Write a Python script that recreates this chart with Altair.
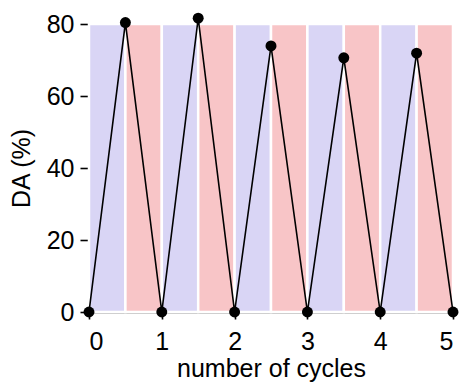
import altair as alt
import pandas as pd

# Measured DA over five switching cycles (half-cycle resolution)
cycle = [0, 0.5, 1, 1.5, 2, 2.5, 3, 3.5, 4, 4.5, 5]
da_pct = [0, 80.4, 0, 81.6, 0, 73.9, 0, 70.6, 0, 71.9, 0]

# Alternating half-cycle phases shaded behind the data
band_start = [0, 0.5, 1, 1.5, 2, 2.5, 3, 3.5, 4, 4.5]
band_end = [0.5, 1, 1.5, 2, 2.5, 3, 3.5, 4, 4.5, 5]
band_phase = ["A", "B", "A", "B", "A", "B", "A", "B", "A", "B"]

df = pd.DataFrame({"cycle": cycle, "da": da_pct})
bands = pd.DataFrame({"x0": band_start, "x1": band_end, "phase": band_phase,
                      "y0": [0] * 10, "y1": [80] * 10})

FONT = "Liberation Sans"
xscale = alt.Scale(domain=[0, 5], nice=False, zero=False)
yscale = alt.Scale(domain=[0, 80], nice=False)

x_axis = alt.Axis(values=[0, 1, 2, 3, 4, 5], format="d", grid=False,
                  title="number of cycles", tickSize=7, labelPadding=10,
                  titlePadding=2)
y_axis = alt.Axis(values=[0, 20, 40, 60, 80], grid=False, title="DA (%)",
                  tickSize=9, labelPadding=6, titlePadding=12)

shade = alt.Chart(bands).mark_rect(stroke="white", strokeWidth=2.5).encode(
    x=alt.X("x0:Q", scale=xscale, axis=x_axis),
    x2="x1:Q",
    y=alt.Y("y0:Q", scale=yscale, axis=y_axis),
    y2="y1:Q",
    color=alt.Color("phase:N", legend=None,
                    scale=alt.Scale(domain=["A", "B"],
                                    range=["#d9d5f5", "#f8c5c7"])),
)

line = alt.Chart(df).mark_line(color="black", strokeWidth=1.6, clip=False).encode(
    x=alt.X("cycle:Q", scale=xscale),
    y=alt.Y("da:Q", scale=yscale),
)

points = alt.Chart(df).mark_circle(color="black", opacity=1, size=120, clip=False).encode(
    x=alt.X("cycle:Q", scale=xscale),
    y=alt.Y("da:Q", scale=yscale),
)

chart = (shade + line + points).properties(
    width=364, height=288,
    autosize=alt.AutoSizeParams(type="none"),
    padding={"left": 89, "top": 24, "right": 10, "bottom": 74},
).configure_view(stroke=None).configure_axis(
    domainColor="black", domainWidth=1.6, tickColor="black", tickWidth=1.6,
    labelFont=FONT, labelFontSize=25, labelColor="black",
    titleFont=FONT, titleFontSize=25, titleFontWeight="normal", titleColor="black",
)

chart.save("out.html", embed_options={"renderer": "svg", "actions": False})
